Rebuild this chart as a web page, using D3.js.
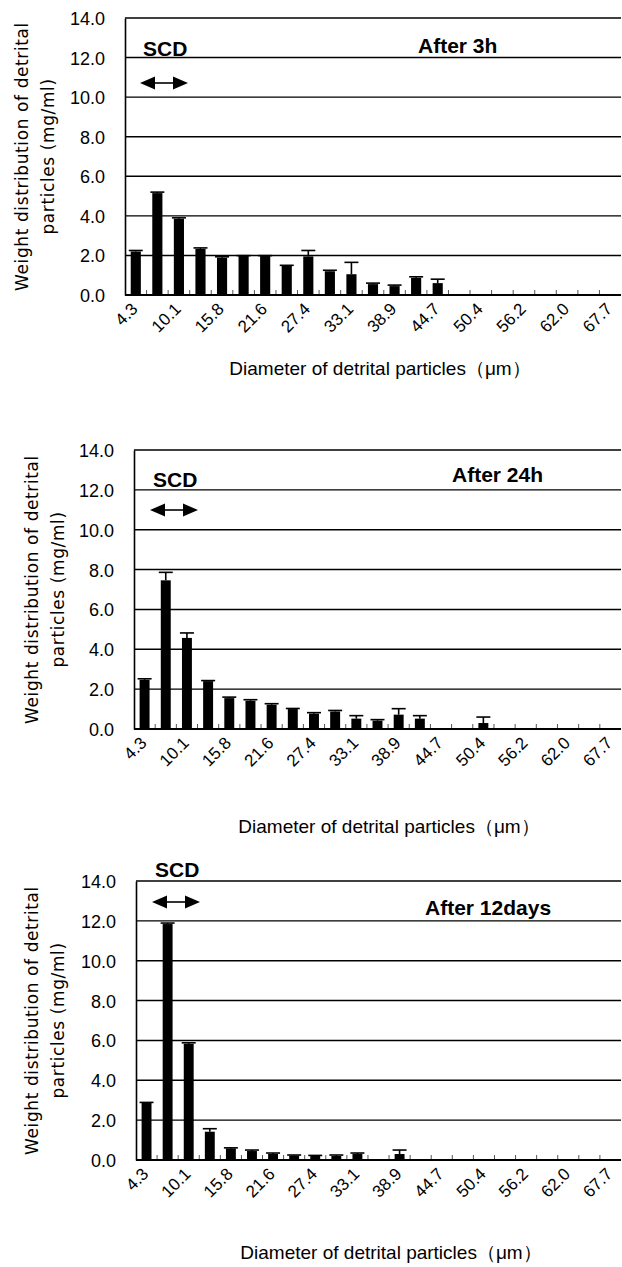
<!DOCTYPE html>
<html>
<head>
<meta charset="utf-8">
<script src="https://cdn.jsdelivr.net/npm/d3@7"></script>
<style>
  body { margin: 0; background: #fff; }
  svg text { font-family: "Liberation Sans", Arial, sans-serif; fill: #000; }
</style>
</head>
<body>
<div id="chart"></div>
<script>
// particle diameter classes (um), only every other one is labelled
const categories = ["4.3", "7.2", "10.1", "13.0", "15.8", "18.7", "21.6", "24.5", "27.4", "30.3",
  "33.1", "36.0", "38.9", "41.8", "44.7", "47.6", "50.4", "53.3", "56.2", "59.1", "62.0", "64.9", "67.7"];
const shownLabels = ["4.3", "10.1", "15.8", "21.6", "27.4", "33.1", "38.9", "44.7", "50.4", "56.2", "62.0", "67.7"];
const yTicks = [0, 2, 4, 6, 8, 10, 12, 14];

const after3hValues = [2.2, 5.15, 3.85, 2.33, 1.88, 1.97, 1.97, 1.47, 1.95, 1.2, 1.05, 0.55, 0.45, 0.87, 0.6,
  0, 0, 0, 0, 0, 0, 0, 0];
const after3hErrors = [0.05, 0.05, 0.05, 0.05, 0.05, 0.02, 0.02, 0.03, 0.3, 0.05, 0.6, 0.05, 0.05, 0.05, 0.2,
  0, 0, 0, 0, 0, 0, 0, 0];

const after24hValues = [2.47, 7.46, 4.57, 2.4, 1.55, 1.42, 1.22, 1.0, 0.77, 0.88, 0.52, 0.42, 0.72, 0.52, 0,
  0, 0.3, 0, 0, 0, 0, 0, 0];
const after24hErrors = [0.05, 0.4, 0.25, 0.03, 0.05, 0.05, 0.05, 0.03, 0.05, 0.05, 0.15, 0.05, 0.3, 0.15, 0,
  0, 0.3, 0, 0, 0, 0, 0, 0];

const after12dValues = [2.86, 11.84, 5.83, 1.42, 0.58, 0.45, 0.3, 0.22, 0.2, 0.2, 0.3, 0, 0.3, 0, 0,
  0, 0, 0, 0, 0, 0, 0, 0];
const after12dErrors = [0.03, 0.05, 0.05, 0.15, 0.03, 0.05, 0.05, 0.03, 0.03, 0.05, 0.05, 0, 0.2, 0, 0,
  0, 0, 0, 0, 0, 0, 0, 0];

const svg = d3.select("#chart").append("svg")
  .attr("width", 622)
  .attr("height", 1267);

class BarPanel {
  constructor(opts) {
    this.opts = opts;
    this.initVis();
  }

  initVis() {
    let vis = this;
    let o = vis.opts;

    vis.g = svg.append("g");

    vis.x = d3.scaleBand().domain(categories).range([o.left, o.right]).paddingInner(0).paddingOuter(0);
    vis.y = d3.scaleLinear().domain([0, 14]).range([o.bottom, o.top]);

    // gridlines
    vis.g.selectAll(".grid")
      .data(yTicks.filter(d => d > 0))
      .enter().append("line")
      .attr("x1", o.left).attr("x2", o.right)
      .attr("y1", d => vis.y(d)).attr("y2", d => vis.y(d))
      .attr("stroke", "#000").attr("stroke-width", 1.4);

    // y axis
    let yAxis = d3.axisLeft(vis.y).tickValues(yTicks).tickFormat(d3.format(".1f")).tickSize(0).tickPadding(20);
    let ya = vis.g.append("g").attr("transform", `translate(${o.left},0)`).call(yAxis);
    ya.select(".domain").attr("stroke", "#000").attr("stroke-width", 1.6);
    ya.selectAll("text")
      .style("font-family", "'Liberation Sans', Arial, sans-serif")
      .style("font-size", "18px").attr("dy", "0.36em");

    // bars
    let bw = vis.x.bandwidth() * 0.47;
    let data = o.values.map((v, i) => ({ cat: categories[i], v: v, e: o.errors[i] }));

    vis.g.selectAll(".bar")
      .data(data.filter(d => d.v > 0))
      .enter().append("rect")
      .attr("x", d => vis.x(d.cat) + vis.x.bandwidth() / 2 - bw / 2)
      .attr("width", bw)
      .attr("y", d => vis.y(d.v))
      .attr("height", d => vis.y(0) - vis.y(d.v))
      .attr("fill", "#000");

    // error bars (plus only)
    let eb = vis.g.selectAll(".err")
      .data(data.filter(d => d.v > 0))
      .enter().append("g");
    eb.append("line")
      .attr("x1", d => vis.x(d.cat) + vis.x.bandwidth() / 2)
      .attr("x2", d => vis.x(d.cat) + vis.x.bandwidth() / 2)
      .attr("y1", d => vis.y(d.v))
      .attr("y2", d => vis.y(d.v + d.e))
      .attr("stroke", "#000").attr("stroke-width", 1.6);
    eb.append("line")
      .attr("x1", d => vis.x(d.cat) + vis.x.bandwidth() / 2 - 7)
      .attr("x2", d => vis.x(d.cat) + vis.x.bandwidth() / 2 + 7)
      .attr("y1", d => vis.y(d.v + d.e))
      .attr("y2", d => vis.y(d.v + d.e))
      .attr("stroke", "#000").attr("stroke-width", 1.6);

    // x axis: inside ticks at category boundaries
    vis.g.selectAll(".xtick")
      .data(categories.slice(1))
      .enter().append("line")
      .attr("x1", d => vis.x(d)).attr("x2", d => vis.x(d))
      .attr("y1", o.bottom).attr("y2", o.bottom - 5)
      .attr("stroke", "#555").attr("stroke-width", 1);
    vis.g.append("line")
      .attr("x1", o.left).attr("x2", o.right)
      .attr("y1", o.bottom).attr("y2", o.bottom)
      .attr("stroke", "#000").attr("stroke-width", 1.8);

    vis.g.selectAll(".xlab")
      .data(shownLabels)
      .enter().append("text")
      .attr("transform", d => `translate(${vis.x(d) + vis.x.bandwidth() / 2 + 3},${o.bottom + 15}) rotate(-45)`)
      .style("text-anchor", "end")
      .style("font-size", "17px")
      .text(d => d);

    // axis titles
    vis.g.append("text")
      .attr("x", o.xTitleX).attr("y", o.xTitleY)
      .style("text-anchor", "middle")
      .style("font-size", "19px")
      .text("Diameter of detrital particles（μm）");

    let cy = (o.top + o.bottom) / 2;
    vis.g.append("text")
      .attr("transform", `translate(${o.yTitleX},${cy}) rotate(-90)`)
      .style("text-anchor", "middle")
      .style("font-family", "'DejaVu Sans', sans-serif")
      .style("font-size", "17px")
      .style("letter-spacing", "0.6px")
      .text("Weight distribution of detrital");
    vis.g.append("text")
      .attr("transform", `translate(${o.yTitleX + 26},${cy}) rotate(-90)`)
      .style("text-anchor", "middle")
      .style("font-family", "'DejaVu Sans', sans-serif")
      .style("font-size", "17px")
      .style("letter-spacing", "0.6px")
      .text("particles (mg/ml)");

    // panel title + SCD annotation
    vis.g.append("text")
      .attr("x", o.titleX).attr("y", o.titleY)
      .style("font-size", "21px").style("font-weight", "bold")
      .text(o.title);
    vis.g.append("text")
      .attr("x", o.scdX).attr("y", o.scdY)
      .style("font-size", "21px").style("font-weight", "bold")
      .text("SCD");

    let ax = o.scdX - 3, ay = o.arrowY, aw = 48;
    vis.g.append("line")
      .attr("x1", ax + 10).attr("x2", ax + aw - 10)
      .attr("y1", ay).attr("y2", ay)
      .attr("stroke", "#000").attr("stroke-width", 1.6);
    vis.g.append("path")
      .attr("d", `M${ax},${ay} L${ax + 15},${ay - 6.5} L${ax + 15},${ay + 6.5} Z`)
      .attr("fill", "#000");
    vis.g.append("path")
      .attr("d", `M${ax + aw},${ay} L${ax + aw - 15},${ay - 6.5} L${ax + aw - 15},${ay + 6.5} Z`)
      .attr("fill", "#000");
  }
}

new BarPanel({
  left: 125, right: 621, top: 18, bottom: 295,
  values: after3hValues, errors: after3hErrors,
  title: "After 3h", titleX: 418, titleY: 53,
  scdX: 143, scdY: 56, arrowY: 83,
  xTitleX: 380, xTitleY: 375, yTitleX: 28
});

new BarPanel({
  left: 134, right: 621, top: 450, bottom: 729,
  values: after24hValues, errors: after24hErrors,
  title: "After 24h", titleX: 452, titleY: 482,
  scdX: 153, scdY: 487, arrowY: 510,
  xTitleX: 389, xTitleY: 833, yTitleX: 38
});

new BarPanel({
  left: 136, right: 621, top: 881, bottom: 1160,
  values: after12dValues, errors: after12dErrors,
  title: "After 12days", titleX: 425, titleY: 915,
  scdX: 155, scdY: 877, arrowY: 902,
  xTitleX: 391, xTitleY: 1259, yTitleX: 38
});
</script>
</body>
</html>
